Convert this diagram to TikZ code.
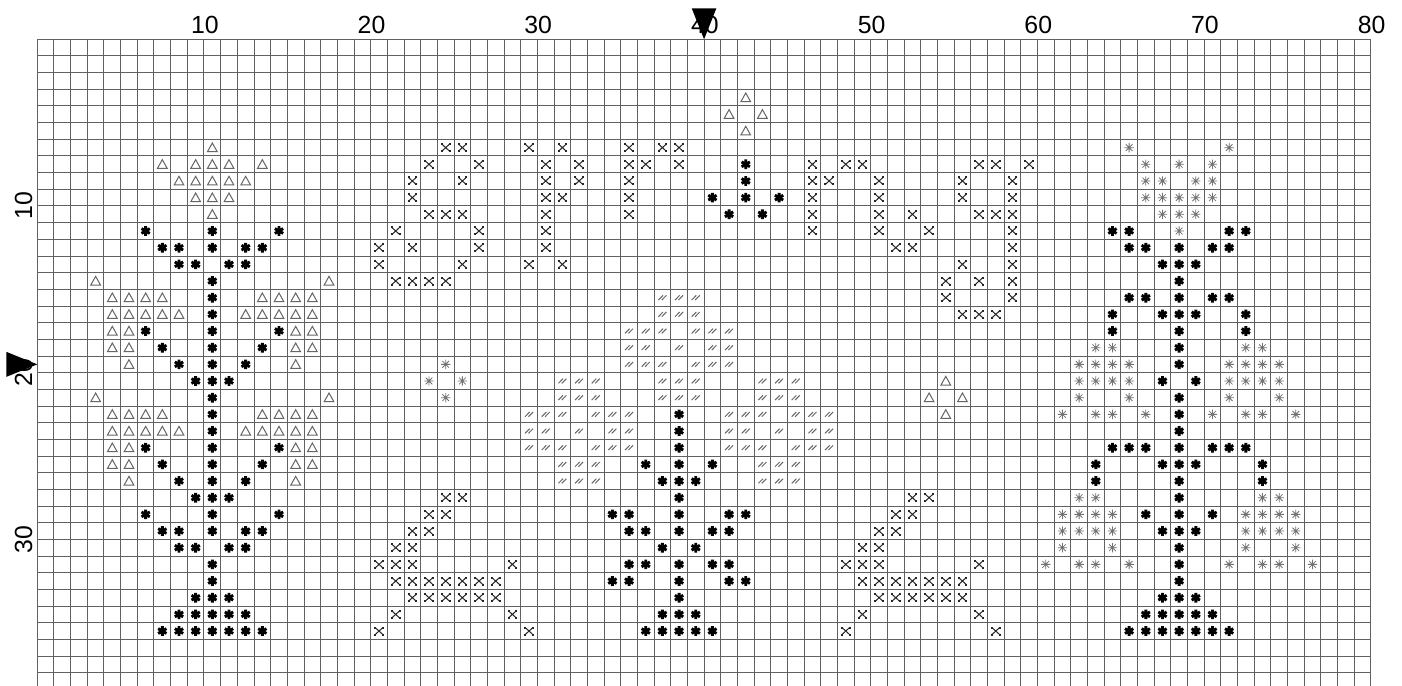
\documentclass[tikz,border=0pt]{standalone}
\usepackage{fontspec}
\setmainfont{Liberation Sans}
\begin{document}
\begin{tikzpicture}[x=8.3333pt,y=-8.3333pt,
  gridline/.style={black!62,line width=0.5pt},
  lbl/.style={font=\fontsize{12.4}{14}\selectfont,inner sep=0pt},
  marker/.style={fill=black},
  tri/.pic={\draw[black!60,line width=0.5pt,line join=miter] (-0.29,0.24) -- (0.29,0.24) -- (0,-0.28) -- cycle;},
  hstar/.pic={\draw[black,line width=1.45pt] (0,-0.29) -- (0,0.29) (-0.25,-0.145) -- (0.25,0.145) (-0.25,0.145) -- (0.25,-0.145);
    \fill[black] (0,0) circle (0.1);},
  tstar/.pic={\draw[black!55,line width=0.4pt] (0,-0.28) -- (0,0.28) (-0.28,0) -- (0.28,0) (-0.2,-0.2) -- (0.2,0.2) (-0.2,0.2) -- (0.2,-0.2);},
  xdot/.pic={\draw[black!85,line width=0.5pt] (-0.22,-0.2) -- (0.22,0.2) (-0.22,0.2) -- (0.22,-0.2);
    \foreach \a/\b in {-0.23/-0.21,0.23/-0.21,-0.23/0.21,0.23/0.21}{\fill[black!85] (\a-0.06,\b-0.06) rectangle ++(0.12,0.12);}},
  slash/.pic={\draw[black!60,line width=0.5pt] (-0.24,0.14) -- (0.036,-0.14) (-0.036,0.14) -- (0.24,-0.14);}
]
\useasboundingbox (-2.238,-2.358) rectangle (81.87,38.74);
\fill[white] (-2.238,-2.358) rectangle (81.87,38.74);
\begin{scope}
\clip (-2.238,-2.358) rectangle (81.87,38.74);
\foreach \i in {0,...,80} \draw[gridline] (\i,0) -- (\i,39);
\foreach \j in {0,...,39} \draw[gridline] (0,\j) -- (80,\j);
\end{scope}
% labels
\foreach \v in {10,20,...,80} \node[lbl] (c\v) at (\v+0.05,-0.87) {\v};
\foreach \v in {10,20,30} \node[lbl,rotate=90] (r\v) at (-0.83,\v) {\v};
% centre markers
\fill[marker] (39.26,-1.86) -- (40.74,-1.86) -- (40,0) -- cycle;
\fill[marker] (-1.86,18.75) -- (-1.86,20.25) -- (0,19.5) -- cycle;
% triangles
\foreach \c/\r in {43/4,42/5,44/5,43/6,11/7,
 8/8,10/8,11/8,12/8,14/8, 9/9,10/9,11/9,12/9,13/9, 10/10,11/10,12/10, 11/11,
 4/15,18/15, 5/16,6/16,7/16,8/16,14/16,15/16,16/16,17/16,
 5/17,6/17,7/17,8/17,9/17,13/17,14/17,15/17,16/17,17/17,
 5/18,6/18,16/18,17/18, 5/19,6/19,16/19,17/19, 6/20,16/20,
 55/21, 4/22,18/22,54/22,56/22,
 5/23,6/23,7/23,8/23,14/23,15/23,16/23,17/23,55/23,
 5/24,6/24,7/24,8/24,9/24,13/24,14/24,15/24,16/24,17/24,
 5/25,6/25,16/25,17/25, 5/26,6/26,16/26,17/26, 6/27,16/27}
 \pic at (\c-0.5,\r-0.5) {tri};
% heavy stars
\foreach \c/\r in {43/8,43/9,41/10,43/10,45/10,42/11,44/11,
 7/12,11/12,15/12,65/12,66/12,72/12,73/12,
 8/13,9/13,11/13,13/13,14/13,66/13,67/13,69/13,71/13,72/13,
 9/14,10/14,12/14,13/14,68/14,69/14,70/14,
 11/15,69/15,
 11/16,66/16,67/16,69/16,71/16,72/16,
 11/17,65/17,68/17,69/17,70/17,73/17,
 7/18,11/18,15/18,65/18,69/18,73/18,
 8/19,11/19,14/19,69/19,
 9/20,11/20,13/20,69/20,
 10/21,11/21,12/21,68/21,70/21,
 11/22,69/22,
 11/23,39/23,69/23,
 11/24,39/24,69/24,
 7/25,11/25,15/25,39/25,65/25,66/25,67/25,69/25,71/25,72/25,73/25,
 8/26,11/26,14/26,37/26,39/26,41/26,64/26,68/26,69/26,70/26,74/26,
 9/27,11/27,13/27,38/27,39/27,40/27,64/27,69/27,74/27,
 10/28,11/28,12/28,39/28,69/28,
 7/29,11/29,15/29,35/29,36/29,39/29,42/29,43/29,67/29,69/29,71/29,
 8/30,9/30,11/30,13/30,14/30,36/30,37/30,39/30,41/30,42/30,68/30,69/30,70/30,
 9/31,10/31,12/31,13/31,38/31,40/31,69/31,
 11/32,36/32,37/32,39/32,41/32,42/32,69/32,
 11/33,35/33,36/33,39/33,42/33,43/33,69/33,
 10/34,11/34,12/34,39/34,68/34,69/34,70/34,
 9/35,10/35,11/35,12/35,13/35,38/35,39/35,40/35,67/35,68/35,69/35,70/35,71/35,
 8/36,9/36,10/36,11/36,12/36,13/36,14/36,37/36,38/36,39/36,40/36,41/36,
 66/36,67/36,68/36,69/36,70/36,71/36,72/36}
 \pic at (\c-0.5,\r-0.5) {hstar};
% thin stars
\foreach \c/\r in {66/7,72/7, 67/8,69/8,71/8, 67/9,68/9,70/9,71/9,
 67/10,68/10,69/10,70/10,71/10, 68/11,69/11,70/11, 69/12,
 64/19,65/19,73/19,74/19,
 25/20,63/20,64/20,65/20,66/20,72/20,73/20,74/20,75/20,
 24/21,26/21,63/21,64/21,65/21,66/21,72/21,73/21,74/21,75/21,
 25/22,63/22,66/22,72/22,75/22,
 62/23,64/23,65/23,67/23,71/23,73/23,74/23,76/23,
 63/28,64/28,74/28,75/28,
 62/29,63/29,64/29,65/29,73/29,74/29,75/29,76/29,
 62/30,63/30,64/30,65/30,73/30,74/30,75/30,76/30,
 62/31,65/31,73/31,76/31,
 61/32,63/32,64/32,66/32,72/32,74/32,75/32,77/32}
 \pic at (\c-0.5,\r-0.5) {tstar};
% crosses
\foreach \c/\r in {25/7,26/7,30/7,32/7,36/7,38/7,39/7,
 24/8,27/8,31/8,33/8,36/8,37/8,39/8,47/8,49/8,50/8,57/8,58/8,60/8,
 23/9,26/9,31/9,33/9,36/9,47/9,48/9,51/9,56/9,59/9,
 23/10,31/10,32/10,36/10,47/10,51/10,56/10,59/10,
 24/11,25/11,26/11,31/11,36/11,47/11,51/11,53/11,57/11,58/11,59/11,
 22/12,27/12,31/12,47/12,51/12,54/12,59/12,
 21/13,23/13,27/13,31/13,52/13,53/13,59/13,
 21/14,26/14,30/14,32/14,56/14,59/14,
 22/15,23/15,24/15,25/15,55/15,57/15,59/15,
 55/16,59/16, 56/17,57/17,58/17,
 25/28,26/28,53/28,54/28,
 24/29,25/29,52/29,53/29,
 23/30,24/30,51/30,52/30,
 22/31,23/31,50/31,51/31,
 21/32,22/32,23/32,29/32,49/32,50/32,51/32,57/32,
 22/33,23/33,24/33,25/33,26/33,27/33,28/33,50/33,51/33,52/33,53/33,54/33,55/33,56/33,
 23/34,24/34,25/34,26/34,27/34,28/34,51/34,52/34,53/34,54/34,55/34,56/34,
 22/35,29/35,50/35,57/35,
 21/36,30/36,49/36,58/36}
 \pic at (\c-0.5,\r-0.5) {xdot};
% slashes
\foreach \c/\r in {38/16,39/16,40/16, 38/17,39/17,40/17,
 36/18,37/18,38/18,40/18,41/18,42/18,
 36/19,37/19,39/19,41/19,42/19,
 36/20,37/20,38/20,40/20,41/20,42/20,
 32/21,33/21,34/21,38/21,39/21,40/21,44/21,45/21,46/21,
 32/22,33/22,34/22,38/22,39/22,40/22,44/22,45/22,46/22,
 30/23,31/23,32/23,34/23,35/23,36/23,42/23,43/23,44/23,46/23,47/23,48/23,
 30/24,31/24,33/24,35/24,36/24,42/24,43/24,45/24,47/24,48/24,
 30/25,31/25,32/25,34/25,35/25,36/25,42/25,43/25,44/25,46/25,47/25,48/25,
 32/26,33/26,34/26,44/26,45/26,46/26,
 32/27,33/27,34/27,44/27,45/27,46/27}
 \pic at (\c-0.5,\r-0.5) {slash};
\end{tikzpicture}
\end{document}
